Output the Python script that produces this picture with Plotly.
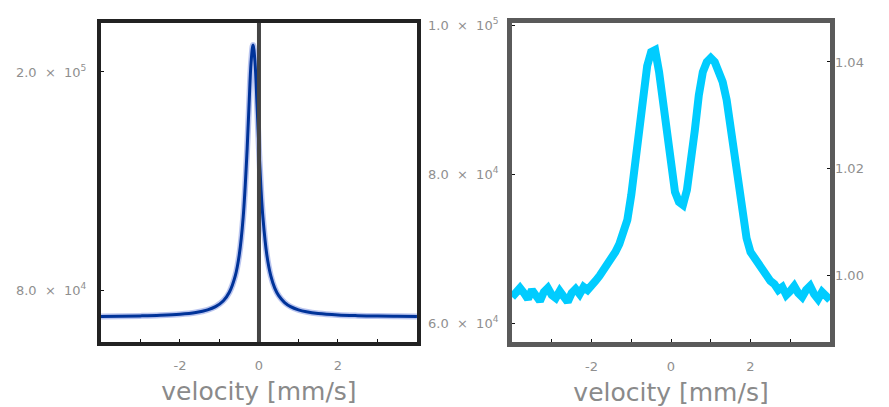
import numpy as np
import plotly.graph_objects as go

# --- single-line spectrum (left panel): velocity [mm/s] vs counts ---
vel_single = [-4.0, -3.5, -3.0, -2.5, -2.0, -1.6, -1.3, -1.1, -0.9, -0.75, -0.6, -0.5,
              -0.4, -0.3, -0.25, -0.2, -0.15, -0.1, -0.05, 0.0, 0.05, 0.1, 0.2, 0.3,
              0.4, 0.5, 0.65, 0.8, 1.0, 1.2, 1.5, 2.0, 2.5, 3.0, 3.5, 4.0]
counts_single = [65460, 65580, 65760, 66070, 66660, 67630, 69080, 70860, 74130, 78750,
                 87770, 99200, 119940, 157380, 182410, 205190, 214900, 205190, 182410,
                 157380, 136170, 119940, 99200, 87770, 81070, 76890, 73100, 70860, 69080,
                 68010, 67060, 66260, 65870, 65640, 65510, 65410]

# --- doublet spectrum (right panel) on a 0.1 mm/s grid from -4 to 4 ---
vel_doublet = np.linspace(-4.0, 4.0, 81)
counts_doublet = [63500, 64170, 64700, 64030, 63230, 64440, 63630, 62960, 64170, 64700,
                  63770, 63360, 64300, 63630, 62830, 64030, 64570, 63900, 64840, 64440,
                  65240, 65650, 66320, 67120, 67660, 68730, 69540, 70610, 71950, 73830,
                  77190, 81880, 87250, 91280, 94500, 96380, 96650, 93690, 89260, 84570,
                  80270, 77590, 76250, 75840, 77860, 81210, 85910, 90610, 93690, 95030,
                  95570, 95030, 93960, 92350, 89940, 85910, 82550, 78930, 75170, 71420,
                  69540, 68730, 68060, 67120, 66320, 65650, 65240, 64440, 64840, 63770,
                  64300, 64970, 64030, 63500, 64440, 64970, 63900, 63230, 64170, 63630,
                  63100]

# reference velocity marker in the left panel
zero_velocity = 0.0

# tick labels
x_tickvals = [-2, 0, 2]
x_ticktext = ["-2", "0", "2"]
SP = "\u00a0"
left_tickvals = [80000, 200000]
left_ticktext = [f"8.0{SP}{SP}×{SP}{SP}10<sup>4</sup>", f"2.0{SP}{SP}×{SP}{SP}10<sup>5</sup>"]
right_tickvals = [60000, 80000, 100000]
right_ticktext = [f"6.0{SP}{SP}×{SP}{SP}10<sup>4</sup>", f"8.0{SP}{SP}×{SP}{SP}10<sup>4</sup>",
                  f"1.0{SP}{SP}×{SP}{SP}10<sup>5</sup>"]
norm_tickvals = [1.00, 1.02, 1.04]
norm_ticktext = ["1.00", "1.02", "1.04"]

FONT = "DejaVu Sans"
TICK_FONT = dict(family=FONT, size=13, color="#8f8f8f")
TITLE_FONT = dict(family=FONT, size=25, color="#8a8a8a")

fig = go.Figure()

# left panel: soft halo plus the fitted line
fig.add_trace(go.Scatter(x=vel_single, y=counts_single, mode="lines",
                         line=dict(color="rgba(130,150,225,0.55)", width=6, shape="spline"),
                         xaxis="x", yaxis="y", showlegend=False, hoverinfo="skip"))
fig.add_trace(go.Scatter(x=vel_single, y=counts_single, mode="lines",
                         line=dict(color="#003399", width=3, shape="spline"),
                         xaxis="x", yaxis="y", showlegend=False))

# right panel: measured doublet
fig.add_trace(go.Scatter(x=vel_doublet, y=counts_doublet, mode="lines",
                         line=dict(color="#00ccff", width=8),
                         xaxis="x2", yaxis="y2", showlegend=False))
# empty trace so the normalised right-hand axis gets its own subplot
fig.add_trace(go.Scatter(x=[], y=[], mode="lines", xaxis="x2", yaxis="y3",
                         showlegend=False, hoverinfo="skip"))

fig.add_shape(type="line", xref="x", yref="y domain", x0=zero_velocity, x1=zero_velocity,
              y0=0, y1=1, line=dict(color="#444444", width=4), layer="above")

frame_left = dict(showline=True, linewidth=4, linecolor="#222222", mirror=True,
                  showgrid=False, zeroline=False, automargin=False)
frame_right = dict(showline=True, linewidth=5, linecolor="#5a5a5a", mirror=True,
                   showgrid=False, zeroline=False, automargin=False)
xcommon = dict(range=[-4, 4], tickmode="array", tickvals=x_tickvals, ticktext=x_ticktext,
               ticks="inside", ticklen=3, tickwidth=1, tickcolor="#111111",
               minor=dict(ticks="inside", dtick=1, tick0=0, ticklen=3, tickcolor="#111111",
                          showgrid=False),
               tickfont=TICK_FONT, ticklabelstandoff=8,
               title=dict(text="velocity [mm/s]", font=TITLE_FONT, standoff=12))
ydom = [0.1597, 0.9435]

fig.update_layout(
    width=889, height=407, margin=dict(l=0, r=0, t=0, b=0, autoexpand=False),
    paper_bgcolor="white", plot_bgcolor="white",
    xaxis=dict(domain=[0.1136, 0.469], anchor="y", **xcommon, **frame_left),
    yaxis=dict(domain=ydom, anchor="x", range=[51380, 226970], tickmode="array",
               tickvals=left_tickvals, ticktext=left_ticktext, ticks="inside", ticklen=3,
               tickcolor="#111111", tickfont=TICK_FONT, ticklabelstandoff=8, **frame_left),
    xaxis2=dict(domain=[0.576, 0.9336], anchor="y2", **xcommon, **frame_right),
    yaxis2=dict(domain=ydom, anchor="x2", range=[57460, 100270], tickmode="array",
                tickvals=right_tickvals, ticktext=right_ticktext, ticks="inside", ticklen=3,
                tickcolor="#111111", tickfont=TICK_FONT, ticklabelstandoff=6, **frame_right),
    yaxis3=dict(overlaying="y2", anchor="x2", side="right", range=[0.98742, 1.04732],
                tickmode="array", tickvals=norm_tickvals, ticktext=norm_ticktext,
                ticks="inside", ticklen=3, tickcolor="#111111", tickfont=TICK_FONT,
                ticklabelstandoff=4, showline=False, showgrid=False, zeroline=False,
                automargin=False),
)

fig.write_html("out.html")
